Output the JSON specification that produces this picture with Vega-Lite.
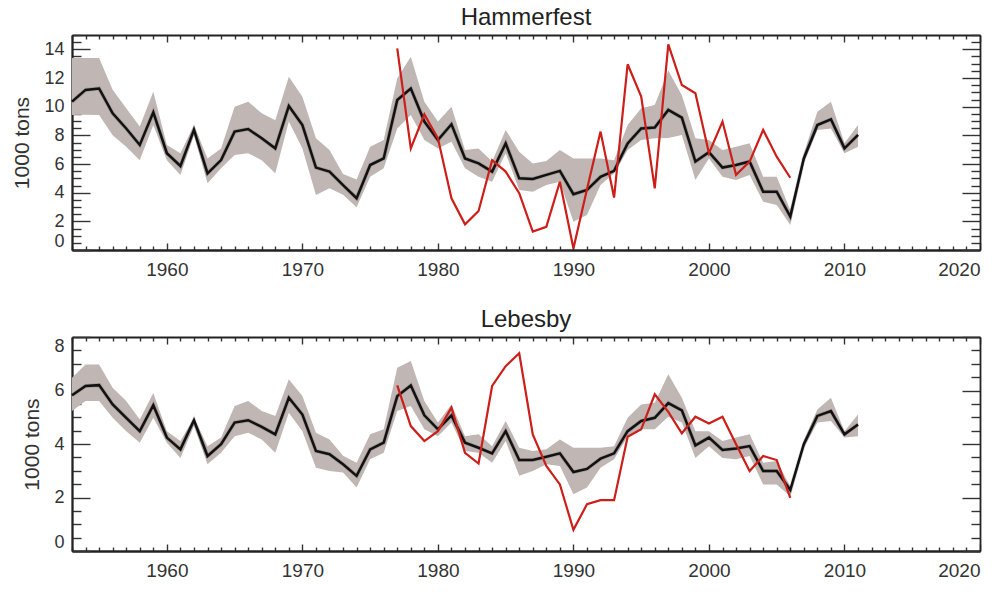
{
  "$schema": "https://vega.github.io/schema/vega-lite/v6.json",
  "padding": {"left": 11, "top": 6, "right": 5, "bottom": 5},
  "bounds": "flush",
  "spacing": 87,
  "config": {
    "view": {"stroke": null},
    "axis": {"domainColor": "#222", "domainWidth": 1.8, "tickColor": "#333", "tickWidth": 1.4, "labelFont": "Liberation Sans", "labelFontSize": 19, "labelColor": "#333", "titleFont": "Liberation Sans", "titleFontSize": 21, "titleFontWeight": "normal", "titleColor": "#333", "grid": false}
  },
  "datasets": {
    "ham": [
      {"year":1953,"lo":9.42,"hi":13.39,"model":10.35,"obs":null},
      {"year":1954,"lo":9.44,"hi":13.39,"model":11.17,"obs":null},
      {"year":1955,"lo":9.42,"hi":13.39,"model":11.27,"obs":null},
      {"year":1956,"lo":8.0,"hi":11.18,"model":9.54,"obs":null},
      {"year":1957,"lo":7.21,"hi":9.89,"model":8.48,"obs":null},
      {"year":1958,"lo":6.27,"hi":8.61,"model":7.33,"obs":null},
      {"year":1959,"lo":8.72,"hi":11.04,"model":9.61,"obs":null},
      {"year":1960,"lo":6.27,"hi":7.33,"model":6.75,"obs":null},
      {"year":1961,"lo":5.24,"hi":6.75,"model":5.86,"obs":null},
      {"year":1962,"lo":8.0,"hi":8.72,"model":8.38,"obs":null},
      {"year":1963,"lo":4.65,"hi":6.39,"model":5.35,"obs":null},
      {"year":1964,"lo":5.7,"hi":7.09,"model":6.27,"obs":null},
      {"year":1965,"lo":6.63,"hi":10.0,"model":8.26,"obs":null},
      {"year":1966,"lo":6.75,"hi":10.35,"model":8.44,"obs":null},
      {"year":1967,"lo":6.27,"hi":9.54,"model":7.79,"obs":null},
      {"year":1968,"lo":5.35,"hi":9.06,"model":7.09,"obs":null},
      {"year":1969,"lo":8.96,"hi":12.09,"model":10.05,"obs":null},
      {"year":1970,"lo":7.09,"hi":10.7,"model":8.72,"obs":null},
      {"year":1971,"lo":3.84,"hi":7.79,"model":5.75,"obs":null},
      {"year":1972,"lo":4.3,"hi":6.98,"model":5.47,"obs":null},
      {"year":1973,"lo":3.86,"hi":5.3,"model":4.53,"obs":null},
      {"year":1974,"lo":2.99,"hi":4.92,"model":3.61,"obs":null},
      {"year":1975,"lo":5.11,"hi":7.21,"model":5.93,"obs":null},
      {"year":1976,"lo":5.7,"hi":7.67,"model":6.39,"obs":null},
      {"year":1977,"lo":8.48,"hi":11.98,"model":10.47,"obs":14.07},
      {"year":1978,"lo":9.42,"hi":13.49,"model":11.27,"obs":7.09},
      {"year":1979,"lo":7.67,"hi":10.35,"model":8.96,"obs":9.46},
      {"year":1980,"lo":7.09,"hi":8.96,"model":7.67,"obs":7.79},
      {"year":1981,"lo":7.56,"hi":10.0,"model":8.77,"obs":3.61},
      {"year":1982,"lo":5.7,"hi":6.98,"model":6.39,"obs":1.79},
      {"year":1983,"lo":5.11,"hi":7.09,"model":6.04,"obs":2.72},
      {"year":1984,"lo":4.76,"hi":6.17,"model":5.47,"obs":6.27},
      {"year":1985,"lo":6.75,"hi":8.38,"model":7.44,"obs":5.47},
      {"year":1986,"lo":4.19,"hi":6.86,"model":5.0,"obs":3.96},
      {"year":1987,"lo":4.07,"hi":6.04,"model":4.96,"obs":1.28},
      {"year":1988,"lo":4.53,"hi":6.21,"model":5.24,"obs":1.62},
      {"year":1989,"lo":4.76,"hi":6.98,"model":5.52,"obs":4.76},
      {"year":1990,"lo":1.97,"hi":6.39,"model":3.89,"obs":0.11},
      {"year":1991,"lo":2.44,"hi":6.39,"model":4.19,"obs":4.24},
      {"year":1992,"lo":4.53,"hi":6.39,"model":5.11,"obs":8.26},
      {"year":1993,"lo":5.35,"hi":6.27,"model":5.52,"obs":3.66},
      {"year":1994,"lo":6.98,"hi":8.72,"model":7.44,"obs":12.96},
      {"year":1995,"lo":7.67,"hi":9.89,"model":8.48,"obs":10.7},
      {"year":1996,"lo":7.79,"hi":10.12,"model":8.54,"obs":4.3},
      {"year":1997,"lo":7.81,"hi":12.53,"model":9.77,"obs":14.35},
      {"year":1998,"lo":8.03,"hi":10.79,"model":9.23,"obs":11.51},
      {"year":1999,"lo":4.89,"hi":7.79,"model":6.17,"obs":10.94},
      {"year":2000,"lo":6.39,"hi":7.67,"model":6.82,"obs":6.75},
      {"year":2001,"lo":5.11,"hi":6.98,"model":5.75,"obs":8.96},
      {"year":2002,"lo":4.89,"hi":7.21,"model":5.93,"obs":5.24},
      {"year":2003,"lo":5.24,"hi":7.44,"model":6.17,"obs":6.17},
      {"year":2004,"lo":3.37,"hi":5.11,"model":4.07,"obs":8.38},
      {"year":2005,"lo":3.14,"hi":5.11,"model":4.07,"obs":6.51},
      {"year":2006,"lo":1.74,"hi":2.79,"model":2.33,"obs":5.04},
      {"year":2007,"lo":6.07,"hi":6.75,"model":6.39,"obs":null},
      {"year":2008,"lo":8.38,"hi":9.64,"model":8.72,"obs":null},
      {"year":2009,"lo":8.48,"hi":10.35,"model":9.12,"obs":null},
      {"year":2010,"lo":6.75,"hi":7.44,"model":7.09,"obs":null},
      {"year":2011,"lo":7.21,"hi":8.72,"model":8.03,"obs":null}
    ],
    "leb": [
      {"year":1953,"lo":5.23,"hi":6.48,"model":5.82,"obs":null},
      {"year":1954,"lo":5.61,"hi":6.97,"model":6.17,"obs":null},
      {"year":1955,"lo":5.61,"hi":6.97,"model":6.2,"obs":null},
      {"year":1956,"lo":4.98,"hi":6.1,"model":5.48,"obs":null},
      {"year":1957,"lo":4.48,"hi":5.61,"model":4.98,"obs":null},
      {"year":1958,"lo":4.05,"hi":4.92,"model":4.48,"obs":null},
      {"year":1959,"lo":4.98,"hi":5.91,"model":5.45,"obs":null},
      {"year":1960,"lo":4.05,"hi":4.48,"model":4.24,"obs":null},
      {"year":1961,"lo":3.48,"hi":4.11,"model":3.8,"obs":null},
      {"year":1962,"lo":4.67,"hi":4.98,"model":4.89,"obs":null},
      {"year":1963,"lo":3.24,"hi":3.92,"model":3.55,"obs":null},
      {"year":1964,"lo":3.67,"hi":4.24,"model":3.99,"obs":null},
      {"year":1965,"lo":4.29,"hi":5.42,"model":4.8,"obs":null},
      {"year":1966,"lo":4.42,"hi":5.61,"model":4.89,"obs":null},
      {"year":1967,"lo":4.17,"hi":5.23,"model":4.64,"obs":null},
      {"year":1968,"lo":3.67,"hi":5.05,"model":4.36,"obs":null},
      {"year":1969,"lo":5.17,"hi":6.42,"model":5.73,"obs":null},
      {"year":1970,"lo":4.48,"hi":5.79,"model":5.1,"obs":null},
      {"year":1971,"lo":3.11,"hi":4.42,"model":3.74,"obs":null},
      {"year":1972,"lo":2.99,"hi":4.17,"model":3.62,"obs":null},
      {"year":1973,"lo":2.93,"hi":3.56,"model":3.24,"obs":null},
      {"year":1974,"lo":2.37,"hi":3.3,"model":2.81,"obs":null},
      {"year":1975,"lo":3.43,"hi":4.36,"model":3.8,"obs":null},
      {"year":1976,"lo":3.67,"hi":4.55,"model":4.05,"obs":null},
      {"year":1977,"lo":5.23,"hi":6.85,"model":5.79,"obs":6.19},
      {"year":1978,"lo":5.42,"hi":7.1,"model":6.19,"obs":4.67},
      {"year":1979,"lo":4.55,"hi":5.61,"model":5.07,"obs":4.11},
      {"year":1980,"lo":4.29,"hi":4.8,"model":4.55,"obs":4.48},
      {"year":1981,"lo":4.8,"hi":5.48,"model":5.07,"obs":5.36},
      {"year":1982,"lo":3.74,"hi":4.29,"model":4.05,"obs":3.67},
      {"year":1983,"lo":3.67,"hi":4.36,"model":3.86,"obs":3.27},
      {"year":1984,"lo":3.3,"hi":3.92,"model":3.65,"obs":6.17},
      {"year":1985,"lo":4.11,"hi":4.86,"model":4.48,"obs":6.91},
      {"year":1986,"lo":2.81,"hi":3.86,"model":3.4,"obs":7.39},
      {"year":1987,"lo":2.99,"hi":3.74,"model":3.4,"obs":4.36},
      {"year":1988,"lo":3.24,"hi":3.8,"model":3.52,"obs":3.18},
      {"year":1989,"lo":3.18,"hi":4.17,"model":3.65,"obs":2.49},
      {"year":1990,"lo":2.12,"hi":3.86,"model":2.95,"obs":0.79},
      {"year":1991,"lo":2.37,"hi":3.86,"model":3.07,"obs":1.75},
      {"year":1992,"lo":3.11,"hi":3.86,"model":3.45,"obs":1.9},
      {"year":1993,"lo":3.43,"hi":3.92,"model":3.65,"obs":1.9},
      {"year":1994,"lo":4.29,"hi":4.98,"model":4.48,"obs":4.27},
      {"year":1995,"lo":4.55,"hi":5.48,"model":4.86,"obs":4.55},
      {"year":1996,"lo":4.55,"hi":5.54,"model":4.98,"obs":5.86},
      {"year":1997,"lo":5.02,"hi":6.61,"model":5.53,"obs":5.2},
      {"year":1998,"lo":4.8,"hi":5.73,"model":5.26,"obs":4.4},
      {"year":1999,"lo":3.48,"hi":4.48,"model":3.95,"obs":5.02},
      {"year":2000,"lo":3.92,"hi":4.48,"model":4.24,"obs":4.77},
      {"year":2001,"lo":3.48,"hi":4.11,"model":3.78,"obs":5.02},
      {"year":2002,"lo":3.43,"hi":4.24,"model":3.83,"obs":3.99},
      {"year":2003,"lo":3.55,"hi":4.36,"model":3.92,"obs":2.99},
      {"year":2004,"lo":2.49,"hi":3.3,"model":2.99,"obs":3.55},
      {"year":2005,"lo":2.49,"hi":3.36,"model":2.99,"obs":3.4},
      {"year":2006,"lo":2.05,"hi":2.42,"model":2.28,"obs":1.99},
      {"year":2007,"lo":3.85,"hi":4.13,"model":3.99,"obs":null},
      {"year":2008,"lo":4.8,"hi":5.29,"model":5.05,"obs":null},
      {"year":2009,"lo":4.86,"hi":5.73,"model":5.23,"obs":null},
      {"year":2010,"lo":4.24,"hi":4.48,"model":4.36,"obs":null},
      {"year":2011,"lo":4.29,"hi":5.1,"model":4.73,"obs":null}
    ]
  },
  "vconcat": [
    {
      "title": {"text": "Hammerfest", "font": "Liberation Sans", "fontSize": 24, "fontWeight": "normal", "color": "#222", "offset": 4, "anchor": "middle"},
      "width": 908,
      "height": 215,
      "data": {"name": "ham"},
      "resolve": {"axis": {"x": "independent", "y": "independent"}},
      "layer": [
        {
          "mark": {"type": "area", "color": "#c0b6b4", "opacity": 1},
          "encoding": {
            "x": {"field": "year", "type": "quantitative", "scale": {"domain": [1953, 2020], "nice": false, "zero": false},
                  "axis": {"orient": "bottom", "values": [1960,1970,1980,1990,2000,2010,2020], "format": "d", "ticks": false, "tickSize": 0, "labelPadding": 10, "title": null}},
            "y": {"field": "lo", "type": "quantitative", "scale": {"domain": [0, 15], "nice": false, "zero": false},
                  "axis": {"orient": "left", "values": [0,2,4,6,8,10,12,14], "format": "d", "ticks": false, "tickSize": 0, "labelPadding": 8, "labelFontSize": 18, "labelFlush": true, "title": "1000 tons", "titlePadding": 11}},
            "y2": {"field": "hi"}
          }
        },
        {
          "mark": {"type": "line", "color": "#000", "strokeWidth": 4, "opacity": 0.15},
          "encoding": {
            "x": {"field": "year", "type": "quantitative", "axis": null},
            "y": {"field": "model", "type": "quantitative", "axis": null}
          }
        },
        {
          "mark": {"type": "line", "color": "#111", "strokeWidth": 2.5},
          "encoding": {
            "x": {"field": "year", "type": "quantitative", "axis": {"orient": "top", "offset": -215, "values": [1953,1954,1955,1956,1957,1958,1959,1960,1961,1962,1963,1964,1965,1966,1967,1968,1969,1970,1971,1972,1973,1974,1975,1976,1977,1978,1979,1980,1981,1982,1983,1984,1985,1986,1987,1988,1989,1990,1991,1992,1993,1994,1995,1996,1997,1998,1999,2000,2001,2002,2003,2004,2005,2006,2007,2008,2009,2010,2011,2012,2013,2014,2015,2016,2017,2018,2019,2020], "labels": false, "tickSize": {"condition": {"test": "datum.value % 10 === 0", "value": 7}, "value": 4}, "title": null}},
            "y": {"field": "model", "type": "quantitative", "axis": {"orient": "right", "offset": -908, "values": [0,0.5,1,1.5,2,2.5,3,3.5,4,4.5,5,5.5,6,6.5,7,7.5,8,8.5,9,9.5,10,10.5,11,11.5,12,12.5,13,13.5,14,14.5,15], "labels": false, "tickSize": {"condition": {"test": "datum.value % 2 === 0", "value": 18}, "value": 9}, "title": null}}
          }
        },
        {
          "mark": {"type": "line", "color": "#cc1f1a", "strokeWidth": 2.2},
          "encoding": {
            "x": {"field": "year", "type": "quantitative", "axis": {"orient": "bottom", "offset": -215, "values": [1953,1954,1955,1956,1957,1958,1959,1960,1961,1962,1963,1964,1965,1966,1967,1968,1969,1970,1971,1972,1973,1974,1975,1976,1977,1978,1979,1980,1981,1982,1983,1984,1985,1986,1987,1988,1989,1990,1991,1992,1993,1994,1995,1996,1997,1998,1999,2000,2001,2002,2003,2004,2005,2006,2007,2008,2009,2010,2011,2012,2013,2014,2015,2016,2017,2018,2019,2020], "labels": false, "tickSize": {"condition": {"test": "datum.value % 10 === 0", "value": 7}, "value": 4}, "title": null}},
            "y": {"field": "obs", "type": "quantitative", "axis": {"orient": "left", "offset": -908, "values": [0,0.5,1,1.5,2,2.5,3,3.5,4,4.5,5,5.5,6,6.5,7,7.5,8,8.5,9,9.5,10,10.5,11,11.5,12,12.5,13,13.5,14,14.5,15], "labels": false, "tickSize": {"condition": {"test": "datum.value % 2 === 0", "value": 18}, "value": 9}, "title": null}}
          }
        }
      ]
    },
    {
      "title": {"text": "Lebesby", "font": "Liberation Sans", "fontSize": 24, "fontWeight": "normal", "color": "#222", "offset": 4, "anchor": "middle"},
      "width": 908,
      "height": 214,
      "data": {"name": "leb"},
      "resolve": {"axis": {"x": "independent", "y": "independent"}},
      "layer": [
        {
          "mark": {"type": "area", "color": "#c0b6b4", "opacity": 1},
          "encoding": {
            "x": {"field": "year", "type": "quantitative", "scale": {"domain": [1953, 2020], "nice": false, "zero": false},
                  "axis": {"orient": "bottom", "values": [1960,1970,1980,1990,2000,2010,2020], "format": "d", "ticks": false, "tickSize": 0, "labelPadding": 10, "title": null}},
            "y": {"field": "lo", "type": "quantitative", "scale": {"domain": [0, 8], "nice": false, "zero": false},
                  "axis": {"orient": "left", "values": [0,2,4,6,8], "format": "d", "ticks": false, "tickSize": 0, "labelPadding": 8, "labelFontSize": 18, "labelFlush": true, "title": "1000 tons", "titlePadding": 11}},
            "y2": {"field": "hi"}
          }
        },
        {
          "mark": {"type": "line", "color": "#000", "strokeWidth": 4, "opacity": 0.15},
          "encoding": {
            "x": {"field": "year", "type": "quantitative", "axis": null},
            "y": {"field": "model", "type": "quantitative", "axis": null}
          }
        },
        {
          "mark": {"type": "line", "color": "#111", "strokeWidth": 2.5},
          "encoding": {
            "x": {"field": "year", "type": "quantitative", "axis": {"orient": "top", "offset": -214, "values": [1953,1954,1955,1956,1957,1958,1959,1960,1961,1962,1963,1964,1965,1966,1967,1968,1969,1970,1971,1972,1973,1974,1975,1976,1977,1978,1979,1980,1981,1982,1983,1984,1985,1986,1987,1988,1989,1990,1991,1992,1993,1994,1995,1996,1997,1998,1999,2000,2001,2002,2003,2004,2005,2006,2007,2008,2009,2010,2011,2012,2013,2014,2015,2016,2017,2018,2019,2020], "labels": false, "tickSize": {"condition": {"test": "datum.value % 10 === 0", "value": 7}, "value": 4}, "title": null}},
            "y": {"field": "model", "type": "quantitative", "axis": {"orient": "right", "offset": -908, "values": [0,0.5,1,1.5,2,2.5,3,3.5,4,4.5,5,5.5,6,6.5,7,7.5,8], "labels": false, "tickSize": {"condition": {"test": "datum.value % 2 === 0", "value": 18}, "value": 9}, "title": null}}
          }
        },
        {
          "mark": {"type": "line", "color": "#cc1f1a", "strokeWidth": 2.2},
          "encoding": {
            "x": {"field": "year", "type": "quantitative", "axis": {"orient": "bottom", "offset": -214, "values": [1953,1954,1955,1956,1957,1958,1959,1960,1961,1962,1963,1964,1965,1966,1967,1968,1969,1970,1971,1972,1973,1974,1975,1976,1977,1978,1979,1980,1981,1982,1983,1984,1985,1986,1987,1988,1989,1990,1991,1992,1993,1994,1995,1996,1997,1998,1999,2000,2001,2002,2003,2004,2005,2006,2007,2008,2009,2010,2011,2012,2013,2014,2015,2016,2017,2018,2019,2020], "labels": false, "tickSize": {"condition": {"test": "datum.value % 10 === 0", "value": 7}, "value": 4}, "title": null}},
            "y": {"field": "obs", "type": "quantitative", "axis": {"orient": "left", "offset": -908, "values": [0,0.5,1,1.5,2,2.5,3,3.5,4,4.5,5,5.5,6,6.5,7,7.5,8], "labels": false, "tickSize": {"condition": {"test": "datum.value % 2 === 0", "value": 18}, "value": 9}, "title": null}}
          }
        }
      ]
    }
  ]
}
